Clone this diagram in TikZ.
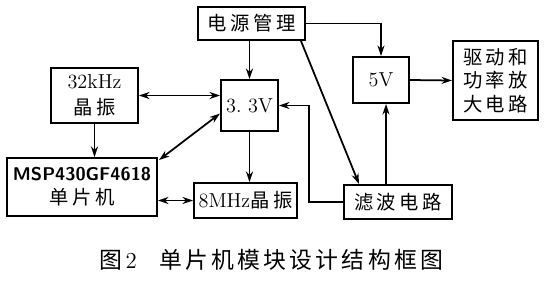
\documentclass[tikz,border=0pt]{standalone}
\usepackage{fontspec}
\newfontfamily\cjk[LetterSpace=18]{Noto Sans CJK SC}
\newfontfamily\cjkcap[LetterSpace=14]{Noto Sans CJK SC}
\usetikzlibrary{calc,arrows.meta}
\begin{document}
\begin{tikzpicture}[>={Stealth[length=6pt,width=4pt]},x=0.02cm,y=-0.02cm,
    blk/.style={draw,line width=1.1pt,align=center,inner sep=1pt,font=\fontsize{11}{13.5}\selectfont},
    link/.style={line width=1pt}]
  \useasboundingbox (0,0) rectangle (546,281);
  % blocks, sizes taken from the figure in px
  \node[blk,minimum width=107*0.02cm,minimum height=33*0.02cm] (power) at (251.5,23.5) {\cjk 电源管理};
  \node[blk,minimum width=87*0.02cm,minimum height=55*0.02cm,font=\fontsize{11.5}{15}\selectfont] (xtal32) at (94.5,95.5) {32kHz\\{\fontsize{11}{13}\selectfont\cjk 晶\,振}};
  \node[blk,minimum width=57*0.02cm,minimum height=51*0.02cm,font=\fontsize{11.5}{13}\selectfont] (v33) at (249.5,105.5) {3.~3V};
  \node[blk,minimum width=56*0.02cm,minimum height=46*0.02cm,font=\fontsize{11.5}{13}\selectfont] (v5) at (381,80) {5V};
  \node[blk,minimum width=85*0.02cm,minimum height=79*0.02cm] (drive) at (495.5,80.5) {\cjk 驱动和\\\cjk 功率放\\\cjk 大电路};
  \node[blk,minimum width=150*0.02cm,minimum height=58*0.02cm] (mcu) at (82,187)
    {{\sffamily\bfseries\fontsize{10.5}{13}\selectfont MSP430GF4618}\\{\cjk 单片机}};
  \node[blk,minimum width=103*0.02cm,minimum height=35*0.02cm,font=\fontsize{11.5}{13}\selectfont] (xtal8) at (245.5,200.5) {8MHz{\fontsize{11}{13}\selectfont\cjk 晶振}};
  \node[blk,minimum width=108*0.02cm,minimum height=34*0.02cm] (filter) at (398,202) {\cjk 滤波电路};
  % connectors
  \draw[link,->] (v33.north |- power.south) -- (v33.north);
  \draw[link,->] (power.east) -| (v5.north);
  \draw[link,->] ($(power.south east)+(-5,0)$) -- ($(filter.north west)+(16,0)$);
  \draw[link,<->] (xtal32.east) -- (xtal32.east -| v33.west);
  \draw[link,->] (xtal32.south) -- (xtal32.south |- mcu.north);
  \draw[link,<->] ($(mcu.north east)+(1,3)$) -- ($(v33.west)+(0,8)$);
  \draw[link,->] (v33.south) -- (v33.south |- xtal8.north);
  \draw[link,<->] (xtal8.west -| mcu.east) -- (xtal8.west);
  \coordinate (fb) at ($(v33.east)+(30,0)$);
  \draw[link,->] (filter.west) -| (fb) -- (v33.east);
  \coordinate (up5) at ($(v5.south)+(5,0)$);
  \draw[link,->] (filter.north -| up5) -- (up5);
  \draw[link,->] (v5.east) -- (drive.west);
  % caption
  \node[font=\fontsize{13}{15}\selectfont] (cap) at (271,260) {{\cjkcap 图}\,2\quad{\cjkcap 单片机模块设计结构框图}};
\end{tikzpicture}
\end{document}
